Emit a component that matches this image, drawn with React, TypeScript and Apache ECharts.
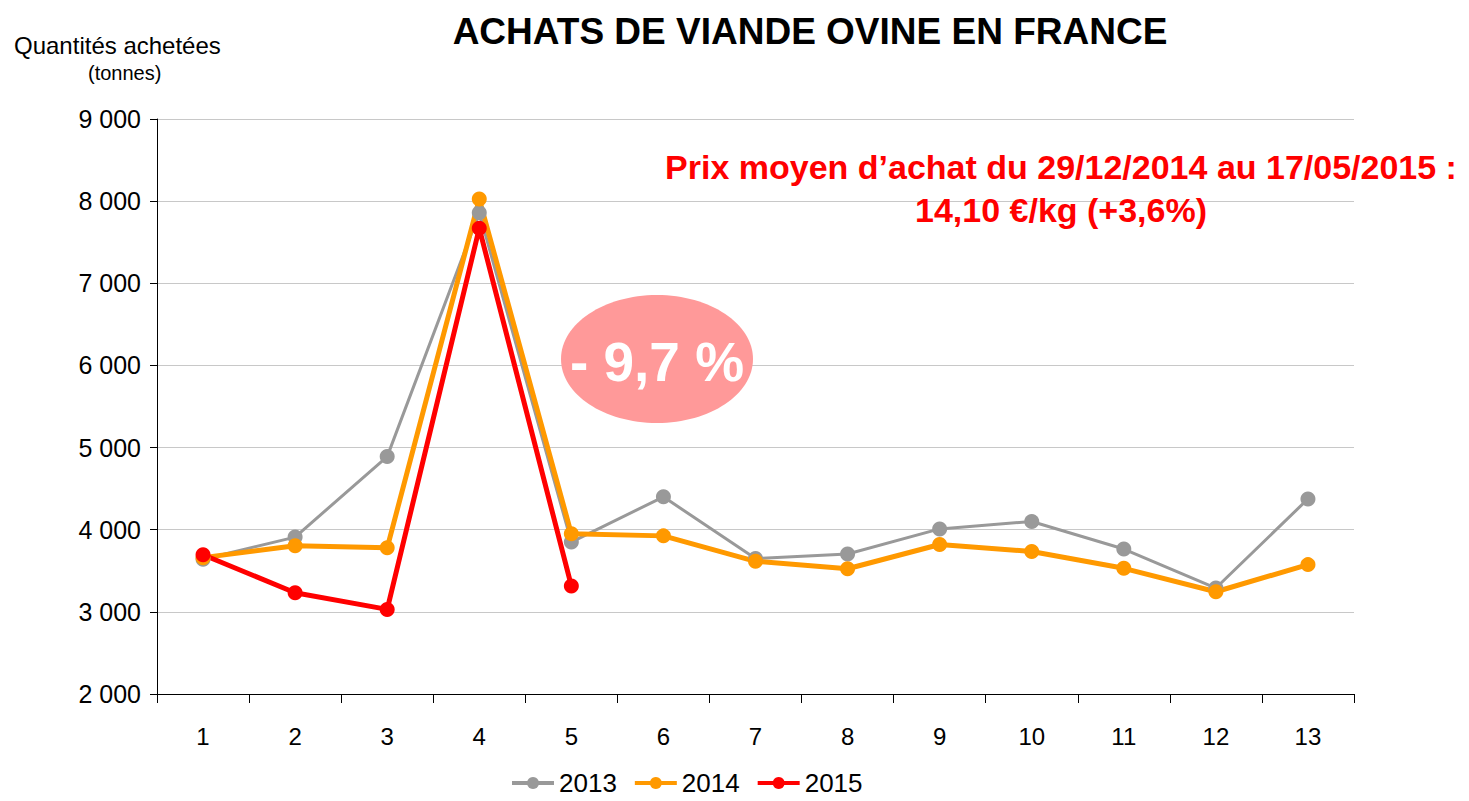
import React, { useEffect, useRef } from "react";
import * as echarts from "echarts";

const weeks = ["1", "2", "3", "4", "5", "6", "7", "8", "9", "10", "11", "12", "13"];
const values2013 = [3640, 3910, 4890, 7860, 3850, 4400, 3650, 3705, 4010, 4100, 3765, 3290, 4375];
const values2014 = [3660, 3805, 3780, 8025, 3950, 3925, 3615, 3525, 3820, 3735, 3530, 3245, 3575];
const values2015 = [3695, 3232, 3030, 7670, 3315, null, null, null, null, null, null, null, null];
const yTicks = { min: 2000, max: 9000, interval: 1000 };

const FONT = "'Liberation Sans', Arial, sans-serif";

export default function App() {
  const ref = useRef<HTMLDivElement>(null);
  useEffect(() => {
    if (!ref.current) return;
    const chart = echarts.init(ref.current, undefined, { renderer: "svg" });
    const mk = (name: string, data: (number | null)[], color: string, width: number, size: number) => ({
      name,
      type: "line",
      data,
      symbol: "circle",
      symbolSize: size,
      connectNulls: false,
      lineStyle: { color, width },
      itemStyle: { color },
    });
    chart.setOption({
      animation: false,
      backgroundColor: "#ffffff",
      textStyle: { fontFamily: FONT },
      title: {
        text: "ACHATS DE VIANDE OVINE EN FRANCE",
        left: 805,
        textAlign: "center",
        top: 8,
        textStyle: { fontFamily: FONT, fontSize: 37, fontWeight: "bold", color: "#000" },
      },
      grid: { left: 157, right: 115, top: 119, bottom: 107, containLabel: false },
      legend: {
        left: 505,
        top: 764,
        itemWidth: 42,
        itemHeight: 15,
        itemGap: 16,
        lineStyle: { width: 4 },
        textStyle: { fontFamily: FONT, fontSize: 26, lineHeight: 28, color: "#000" },
        data: ["2013", "2014", "2015"],
      },
      xAxis: {
        type: "category",
        data: weeks,
        boundaryGap: true,
        axisLine: { lineStyle: { color: "#000", width: 1 } },
        axisTick: { show: true, length: 9, alignWithLabel: false, lineStyle: { color: "#000" } },
        axisLabel: { fontFamily: FONT, fontSize: 24, color: "#000", margin: 30 },
        splitLine: { show: false },
      },
      yAxis: {
        type: "value",
        min: yTicks.min,
        max: yTicks.max,
        interval: yTicks.interval,
        axisLine: { show: true, lineStyle: { color: "#000", width: 1 } },
        axisTick: { show: true, length: 7, lineStyle: { color: "#000" } },
        axisLabel: {
          fontFamily: FONT,
          fontSize: 25,
          color: "#000",
          margin: 16,
          formatter: (v: number) => String(v).replace(/\B(?=(\d{3})+(?!\d))/g, " "),
        },
        splitLine: { show: true, lineStyle: { color: "#c8c8c8", width: 1 } },
      },
      series: [
        mk("2013", values2013, "#999999", 3, 15),
        mk("2014", values2014, "#FF9900", 5, 15),
        mk("2015", values2015, "#FF0000", 5, 15),
      ],
      graphic: [
        {
          type: "text",
          left: 14,
          top: 33,
          style: { text: "Quantités achetées", font: `24px ${FONT}`, fill: "#000" },
        },
        {
          type: "text",
          left: 88,
          top: 63,
          style: { text: "(tonnes)", font: `20px ${FONT}`, fill: "#000" },
        },
        {
          type: "ellipse",
          shape: { cx: 657, cy: 359, rx: 96, ry: 64 },
          style: { fill: "#FF9999" },
          z: 10,
        },
        {
          type: "text",
          x: 657,
          y: 362,
          style: {
            text: "- 9,7 %",
            font: `bold 55px ${FONT}`,
            fill: "#ffffff",
            align: "center",
            verticalAlign: "middle",
          },
          z: 11,
        },
        {
          type: "text",
          x: 1061,
          y: 188,
          style: {
            text: "Prix moyen d’achat du 29/12/2014 au 17/05/2015 :\n14,10 €/kg (+3,6%)",
            font: `bold 34px ${FONT}`,
            lineHeight: 43,
            fill: "#FF0000",
            align: "center",
            verticalAlign: "middle",
          },
          z: 11,
        },
      ],
    });
    return () => chart.dispose();
  }, []);
  return <div ref={ref} style={{ width: 1469, height: 801, position: "absolute", left: 0, top: 0 }} />;
}
